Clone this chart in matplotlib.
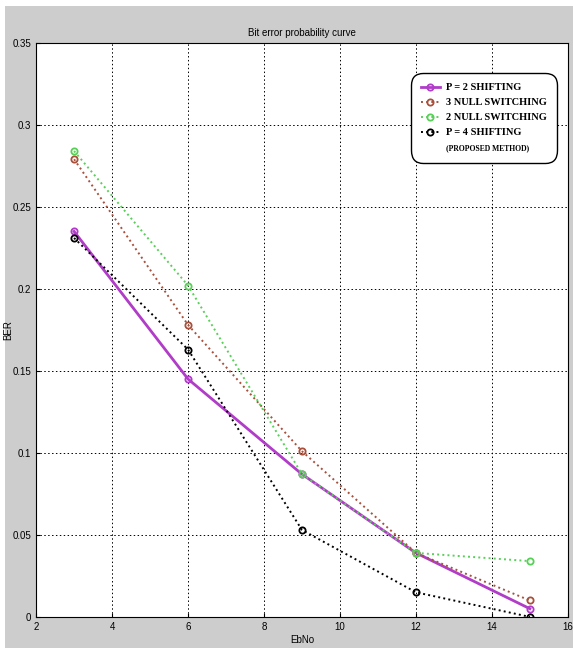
import numpy as np
import matplotlib
matplotlib.use("Agg")
import matplotlib.pyplot as plt
from matplotlib.lines import Line2D
from matplotlib.patches import Rectangle

# Eb/No points and BER values
ebno = [3, 6, 9, 12, 15]
ber_p2_shift = [0.235, 0.145, 0.087, 0.039, 0.005]
ber_3null = [0.279, 0.178, 0.101, 0.039, 0.010]
ber_2null = [0.284, 0.202, 0.087, 0.039, 0.034]
ber_p4_shift = [0.231, 0.163, 0.053, 0.015, 0.0]

labels = ["P = 2 SHIFTING", "3 NULL SWITCHING", "2 NULL SWITCHING", "P = 4 SHIFTING"]
xticks = [2, 4, 6, 8, 10, 12, 14, 16]
yticks = [0, 0.05, 0.1, 0.15, 0.2, 0.25, 0.3, 0.35]

plt.rcParams['font.family'] = ['Liberation Sans', 'DejaVu Sans']

fig = plt.figure(figsize=(5.73, 6.48), dpi=100, facecolor='white')
# gray window background, white strip at top/left like the screenshot
fig.patches.append(Rectangle((5 / 573, 0), 1, 1 - 6 / 648, transform=fig.transFigure,
                             facecolor='#cdcdcd', edgecolor='none', zorder=-10))

ax = fig.add_axes([0.063, 0.048, 0.928, 0.886])
ax.set_facecolor('white')

ax.plot(ebno, ber_p2_shift, '-o', color='#b03cc8', lw=2.0, ms=4.5, mfc='none', mew=1.3, label=labels[0])
ax.plot(ebno, ber_3null, ':o', color='#a8503c', lw=1.4, ms=4.5, mfc='none', mew=1.3, label=labels[1])
ax.plot(ebno, ber_2null, ':o', color='#58d058', lw=1.4, ms=4.5, mfc='none', mew=1.3, label=labels[2])
ax.plot(ebno, ber_p4_shift, ':o', color='black', lw=1.4, ms=4.5, mfc='none', mew=1.3, label=labels[3])

ax.set_xlim(2, 16)
ax.set_ylim(0, 0.35)
ax.set_xticks(xticks)
ax.set_yticks(yticks)
ax.set_xticklabels([str(t) for t in xticks])
ax.set_yticklabels(['0', '0.05', '0.1', '0.15', '0.2', '0.25', '0.3', '0.35'])
ax.tick_params(direction='in', labelsize=7, length=3)
ax.grid(True, color='black', linestyle=(0, (1.5, 2.5)), linewidth=0.7)

ax.set_title("Bit error probability curve", fontsize=7, pad=5)
ax.set_xlabel("EbNo", fontsize=7, labelpad=2)
ax.set_ylabel("BER", fontsize=7)
ax.yaxis.set_label_coords(-0.043, 0.5)

handles, lbls = ax.get_legend_handles_labels()
handles.append(Line2D([], [], color='none'))
lbls.append("(PROPOSED METHOD)")
leg = ax.legend(handles, lbls, loc='upper right', bbox_to_anchor=(0.99, 0.957),
                prop={'family': 'Liberation Serif', 'weight': 'bold', 'size': 7.5},
                fancybox=True, framealpha=1, edgecolor='black', handlelength=1.8,
                handletextpad=0.6, labelspacing=0.55, borderpad=1.0)
leg.get_frame().set_boxstyle('round', pad=0.0, rounding_size=1.2)
leg.get_texts()[-1].set_fontsize(5.5)

fig.savefig("out.png", dpi=100, facecolor=fig.get_facecolor())
